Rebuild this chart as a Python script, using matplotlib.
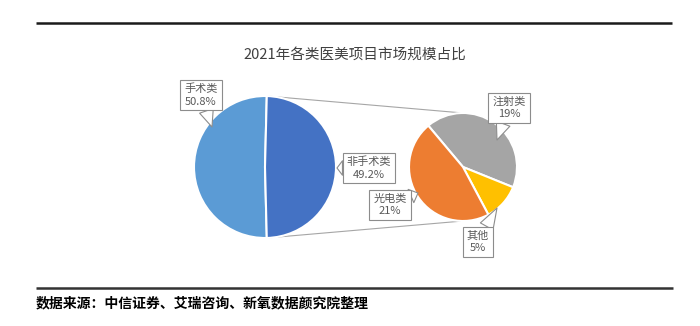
import matplotlib
matplotlib.use("Agg")
import matplotlib.pyplot as plt
import numpy as np

plt.rcParams['font.family'] = ['Noto Sans CJK SC', 'DejaVu Sans']

title = "2021年各类医美项目市场规模占比"
source = "数据来源：中信证券、艾瑞咨询、新氧数据颜究院整理"

# left pie
main_labels = ["手术类", "非手术类"]
main_values = [50.8, 49.2]
main_text = ["50.8%", "49.2%"]
main_colors = ["#5B9BD5", "#4472C4"]

# right pie (breakdown of 非手术类)
sub_labels = ["注射类", "其他", "光电类"]
sub_values = [19, 5, 21]
sub_text = ["19%", "5%", "21%"]
sub_colors = ["#A5A5A5", "#FFC000", "#ED7D31"]

W, H = 700, 326
fig = plt.figure(figsize=(7, 3.26), dpi=100)
ax = fig.add_axes([0, 0, 1, 1])


def py(y):
    # pixel row from the top -> data y
    return H - y


wp = dict(edgecolor="white", linewidth=1.5)

# left pie, the 非手术类 wedge faces right
main_c = (265, py(167))
main_r = 71
half = main_values[1] / sum(main_values) * 180
w1, _ = ax.pie(main_values, colors=main_colors, center=main_c, radius=main_r,
               startangle=half, counterclock=True, wedgeprops=wp)

# right pie
sub_c = (463, py(167))
sub_r = 54
w2, _ = ax.pie(sub_values, colors=sub_colors, center=sub_c, radius=sub_r,
               startangle=130, counterclock=False, wedgeprops=wp)

# connector lines
ns = w1[1]
for ang, sy in [(ns.theta2, 1), (ns.theta1, -1)]:
    a = np.deg2rad(ang)
    x0 = main_c[0] + main_r * np.cos(a)
    y0 = main_c[1] + main_r * np.sin(a)
    ax.plot([x0, sub_c[0]], [y0, sub_c[1] + sy * sub_r], color="#A6A6A6", lw=0.8, zorder=0)

# callouts
box = dict(boxstyle="square,pad=0.35", fc="white", ec="#8C8C8C", lw=0.8)
arrow = dict(arrowstyle="wedge,tail_width=1.3,shrink_factor=0.5", fc="white", ec="#8C8C8C",
             lw=0.8, shrinkA=0, shrinkB=0)
callouts = [
    (main_labels[0] + "\n" + main_text[0], (201, 95), (212, 127)),
    (main_labels[1] + "\n" + main_text[1], (369, 168), (337, 168)),
    (sub_labels[0] + "\n" + sub_text[0], (509, 108), (497, 140)),
    (sub_labels[2] + "\n" + sub_text[2], (390, 205), (418, 193)),
    (sub_labels[1] + "\n" + sub_text[1], (478, 242), (497, 208)),
]
for txt, pos, tip in callouts:
    ax.annotate(txt, xy=(tip[0], py(tip[1])), xytext=(pos[0], py(pos[1])),
                ha="center", va="center", fontsize=8, color="#595959",
                linespacing=1.3, bbox=box, arrowprops=arrow, zorder=5)

ax.text(355, py(55), title, fontsize=10.5, color="#404040", ha="center", va="center")

# rules and source note
ax.plot([36, 672], [py(23), py(23)], color="#1A1A1A", lw=1.8, solid_capstyle="butt")
ax.plot([36, 673], [py(288), py(288)], color="#333333", lw=1.8, solid_capstyle="butt")
ax.text(36, py(303), source, fontsize=10, fontweight="bold", color="black",
        ha="left", va="center")

ax.set_xlim(0, W)
ax.set_ylim(0, H)
ax.set_aspect("equal")
ax.axis("off")

fig.savefig("out.png", dpi=100)
